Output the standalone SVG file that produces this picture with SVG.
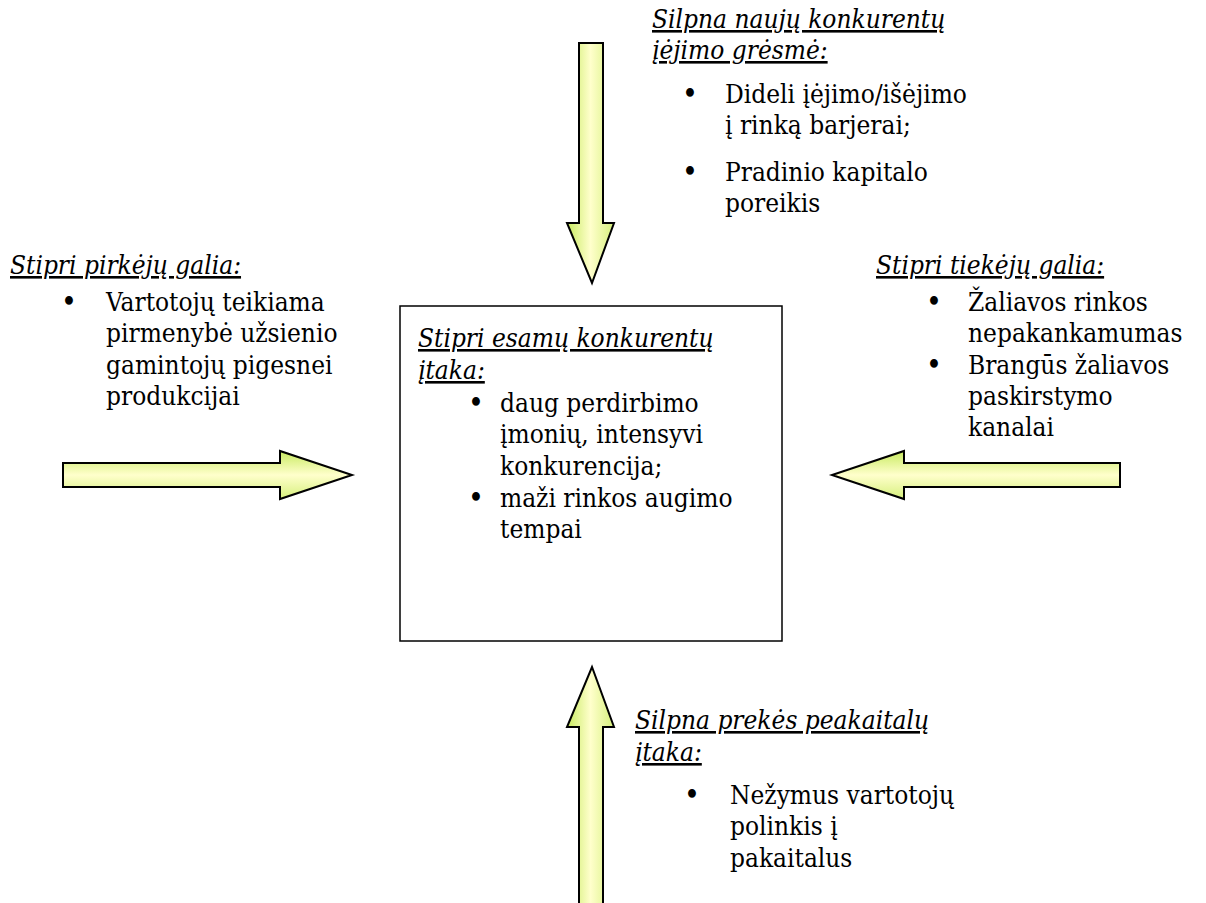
<svg xmlns="http://www.w3.org/2000/svg" width="1206" height="903" viewBox="0 0 1206 903">
<style>
text{font-family:'DejaVu Serif Condensed','DejaVu Serif',serif;font-stretch:condensed;font-size:26px;fill:#000}
.h{font-style:italic;text-decoration:underline}
.b{font-size:30px}
.arrow{stroke:#000;stroke-width:2;stroke-linejoin:miter}
.box{fill:#fff;stroke:#000;stroke-width:1.5}
</style>
<defs>
<linearGradient id="gv" x1="0" y1="0" x2="1" y2="0">
<stop offset="0" stop-color="#c8ea60"/>
<stop offset="0.5" stop-color="#ffffcc"/>
<stop offset="1" stop-color="#d6f07c"/>
</linearGradient>
<linearGradient id="gh" x1="0" y1="0" x2="0" y2="1">
<stop offset="0" stop-color="#c8ea60"/>
<stop offset="0.5" stop-color="#ffffcc"/>
<stop offset="1" stop-color="#d6f07c"/>
</linearGradient>
</defs>
<rect width="1206" height="903" fill="#fff"/>
<g id="connectors">
<path class="arrow" fill="url(#gv)" d="M579,43 H603 V223 H614 L592,283 L567,223 H579 Z"/>
<path class="arrow" fill="url(#gh)" d="M63,463 H280 V451 L352,475 L280,499 V487 H63 Z"/>
<path class="arrow" fill="url(#gh)" d="M1120,463 H904 V451 L832,475 L904,499 V487 H1120 Z"/>
<path class="arrow" fill="url(#gv)" d="M579,910 V727 H567 L592,667 L614,727 H603 V910 Z"/>
</g>
<g id="center">
<rect class="box" x="400" y="306" width="382" height="335"/>
<text class="h" x="418" y="347">Stipri esamų konkurentų</text>
<text class="h" x="418" y="379">įtaka:</text>
<text class="b" x="468" y="413">•</text>
<text x="500" y="412">daug perdirbimo</text>
<text x="500" y="443">įmonių, intensyvi</text>
<text x="500" y="475">konkurencija;</text>
<text class="b" x="468" y="508">•</text>
<text x="500" y="507">maži rinkos augimo</text>
<text x="500" y="538">tempai</text>
</g>
<g id="top">
<text class="h" x="652" y="28">Silpna naujų konkurentų</text>
<text class="h" x="652" y="59">įėjimo grėsmė:</text>
<text class="b" x="682" y="104">•</text>
<text x="725" y="103">Dideli įėjimo/išėjimo</text>
<text x="725" y="134">į rinką barjerai;</text>
<text class="b" x="682" y="182">•</text>
<text x="725" y="181">Pradinio kapitalo</text>
<text x="725" y="212">poreikis</text>
</g>
<g id="left">
<text class="h" x="10" y="274">Stipri pirkėjų galia:</text>
<text class="b" x="61" y="312">•</text>
<text x="106" y="311">Vartotojų teikiama</text>
<text x="106" y="342">pirmenybė užsienio</text>
<text x="106" y="374">gamintojų pigesnei</text>
<text x="106" y="405">produkcijai</text>
</g>
<g id="right">
<text class="h" x="876" y="274">Stipri tiekėjų galia:</text>
<text class="b" x="926" y="312">•</text>
<text x="968" y="311">Žaliavos rinkos</text>
<text x="968" y="342">nepakankamumas</text>
<text class="b" x="926" y="375">•</text>
<text x="968" y="374">Brangūs žaliavos</text>
<text x="968" y="405">paskirstymo</text>
<text x="968" y="436">kanalai</text>
</g>
<g id="bottom">
<text class="h" x="635" y="729">Silpna prekės peakaitalų</text>
<text class="h" x="635" y="761">įtaka:</text>
<text class="b" x="684" y="805">•</text>
<text x="730" y="804">Nežymus vartotojų</text>
<text x="730" y="835">polinkis į</text>
<text x="730" y="867">pakaitalus</text>
</g>
</svg>
